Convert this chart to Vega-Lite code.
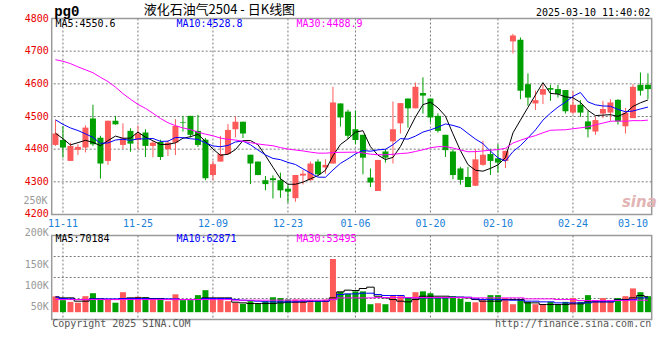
{
"$schema": "https://vega.github.io/schema/vega-lite/v6.json",
"autosize": {"type": "pad"},
"padding": {"left": 21.7, "top": 2.5, "right": 5.5, "bottom": 31},
"background": "#ffffff",
"bounds": "flush",
"spacing": 21,
"config": {
 "view": {"stroke": "#9a9a9a", "strokeWidth": 1.5},
 "axis": {"domain": false, "ticks": false, "grid": false, "labelFont": "DejaVu Sans Mono", "labelFontSize": 10, "titleFont": "DejaVu Sans Mono", "titleFontSize": 10, "titleFontWeight": "normal", "titleColor": "#000000"},
 "text": {"font": "DejaVu Sans Mono", "fontSize": 10}
},
"datasets": {
"gx": [{"gd":"2024-11-11"},{"gd":"2024-11-25"},{"gd":"2024-12-09"},{"gd":"2024-12-23"},{"gd":"2025-01-06"},{"gd":"2025-01-20"},{"gd":"2025-02-10"},{"gd":"2025-02-24"}],
"k": [
{"d":"2024-11-08","o":4413,"h":4489,"l":4410,"c":4448,"v":55000,"m5":4449,"m10":4490,"m30":4674,"v5":53900,"v10":53100,"v30":47500},
{"d":"2024-11-11","o":4428,"h":4471,"l":4374,"c":4405,"v":46000,"m5":4432,"m10":4476,"m30":4669,"v5":51500,"v10":49900,"v30":47500},
{"d":"2024-11-12","o":4364,"h":4420,"l":4364,"c":4410,"v":42000,"m5":4413,"m10":4465,"m30":4662,"v5":51500,"v10":49100,"v30":47500},
{"d":"2024-11-13","o":4398,"h":4415,"l":4382,"c":4407,"v":40000,"m5":4420,"m10":4457,"m30":4652,"v5":43600,"v10":47500,"v30":47500},
{"d":"2024-11-14","o":4405,"h":4473,"l":4390,"c":4466,"v":55500,"m5":4427.2,"m10":4447,"m30":4643,"v5":43600,"v10":47500,"v30":47500},
{"d":"2024-11-15","o":4494,"h":4536,"l":4410,"c":4415,"v":62600,"m5":4420.6,"m10":4436,"m30":4634,"v5":49100,"v10":49100,"v30":47500},
{"d":"2024-11-18","o":4435,"h":4441,"l":4310,"c":4356,"v":47600,"m5":4410.8,"m10":4418,"m30":4620,"v5":49100,"v10":49100,"v30":47500},
{"d":"2024-11-19","o":4364,"h":4487,"l":4352,"c":4487,"v":47600,"m5":4426.2,"m10":4419,"m30":4607,"v5":47500,"v10":49100,"v30":47500},
{"d":"2024-11-20","o":4487,"h":4502,"l":4475,"c":4476,"v":40000,"m5":4440,"m10":4428,"m30":4590,"v5":47500,"v10":49100,"v30":47500},
{"d":"2024-11-21","o":4413,"h":4479,"l":4400,"c":4433,"v":65000,"m5":4433.4,"m10":4430.3,"m30":4570,"v5":49900,"v10":49900,"v30":47500},
{"d":"2024-11-22","o":4456,"h":4464,"l":4392,"c":4417,"v":51000,"m5":4433.8,"m10":4427.2,"m30":4553,"v5":51500,"v10":49900,"v30":47500},
{"d":"2024-11-25","o":4428,"h":4472,"l":4400,"c":4448,"v":54000,"m5":4452.2,"m10":4431.5,"m30":4537,"v5":51500,"v10":49900,"v30":47500},
{"d":"2024-11-26","o":4451,"h":4461,"l":4376,"c":4410,"v":53000,"m5":4436.8,"m10":4431.5,"m30":4525,"v5":51500,"v10":49900,"v30":47500},
{"d":"2024-11-27","o":4410,"h":4425,"l":4375,"c":4420,"v":49000,"m5":4425.6,"m10":4432.8,"m30":4510,"v5":49900,"v10":49100,"v30":47500},
{"d":"2024-11-28","o":4422,"h":4429,"l":4367,"c":4376,"v":49000,"m5":4414.2,"m10":4423.8,"m30":4494,"v5":49900,"v10":49100,"v30":47500},
{"d":"2024-11-29","o":4400,"h":4427,"l":4379,"c":4420,"v":43600,"m5":4414.8,"m10":4424.3,"m30":4481,"v5":47500,"v10":49100,"v30":47500},
{"d":"2024-12-02","o":4420,"h":4492,"l":4382,"c":4471,"v":60000,"m5":4419.4,"m10":4435.8,"m30":4472,"v5":47500,"v10":49100,"v30":47500},
{"d":"2024-12-03","o":4482,"h":4502,"l":4454,"c":4480,"v":46000,"m5":4433.4,"m10":4435.1,"m30":4465,"v5":47500,"v10":47500,"v30":47500},
{"d":"2024-12-04","o":4502,"h":4502,"l":4436,"c":4444,"v":46000,"m5":4438.2,"m10":4431.9,"m30":4460,"v5":47500,"v10":47500,"v30":47500},
{"d":"2024-12-05","o":4456,"h":4505,"l":4407,"c":4413,"v":58000,"m5":4445.6,"m10":4429.9,"m30":4452,"v5":47500,"v10":47500,"v30":47500},
{"d":"2024-12-06","o":4429,"h":4434,"l":4305,"c":4311,"v":69800,"m5":4423.8,"m10":4419.3,"m30":4446,"v5":51500,"v10":49900,"v30":47500},
{"d":"2024-12-09","o":4321,"h":4364,"l":4305,"c":4354,"v":47600,"m5":4400.4,"m10":4409.9,"m30":4441,"v5":51500,"v10":49900,"v30":47500},
{"d":"2024-12-10","o":4362,"h":4441,"l":4362,"c":4385,"v":47600,"m5":4381.4,"m10":4407.4,"m30":4434,"v5":51500,"v10":49900,"v30":47500},
{"d":"2024-12-11","o":4385,"h":4477,"l":4382,"c":4459,"v":43600,"m5":4384.4,"m10":4411.3,"m30":4430,"v5":51500,"v10":49900,"v30":47500},
{"d":"2024-12-12","o":4461,"h":4500,"l":4436,"c":4484,"v":40000,"m5":4398.6,"m10":4422.1,"m30":4428,"v5":41200,"v10":47500,"v30":46000},
{"d":"2024-12-13","o":4484,"h":4484,"l":4434,"c":4448,"v":37300,"m5":4426,"m10":4424.9,"m30":4424,"v5":39600,"v10":45900,"v30":46000},
{"d":"2024-12-16","o":4383,"h":4383,"l":4293,"c":4356,"v":43600,"m5":4426.4,"m10":4413.4,"m30":4420,"v5":38000,"v10":45100,"v30":46000},
{"d":"2024-12-17","o":4362,"h":4362,"l":4320,"c":4321,"v":37300,"m5":4413.6,"m10":4397.5,"m30":4416,"v5":38000,"v10":43600,"v30":46000},
{"d":"2024-12-18","o":4305,"h":4318,"l":4274,"c":4293,"v":43600,"m5":4380.4,"m10":4382.4,"m30":4413,"v5":38000,"v10":42000,"v30":46000},
{"d":"2024-12-19","o":4311,"h":4320,"l":4249,"c":4305,"v":53000,"m5":4344.6,"m10":4371.6,"m30":4410.6,"v5":38000,"v10":42000,"v30":46000},
{"d":"2024-12-20","o":4305,"h":4328,"l":4251,"c":4274,"v":51000,"m5":4309.8,"m10":4367.9,"m30":4404.8,"v5":39600,"v10":42000,"v30":46000},
{"d":"2024-12-23","o":4279,"h":4292,"l":4236,"c":4270,"v":47600,"m5":4292.6,"m10":4359.5,"m30":4400.3,"v5":41200,"v10":42000,"v30":46000},
{"d":"2024-12-24","o":4250,"h":4321,"l":4239,"c":4321,"v":47600,"m5":4292.6,"m10":4353.1,"m30":4397.3,"v5":41200,"v10":42000,"v30":46000},
{"d":"2024-12-25","o":4319,"h":4336,"l":4292,"c":4325,"v":47600,"m5":4299,"m10":4339.7,"m30":4394.6,"v5":41200,"v10":43600,"v30":46000},
{"d":"2024-12-26","o":4305,"h":4362,"l":4303,"c":4356,"v":46000,"m5":4309.2,"m10":4326.9,"m30":4390.9,"v5":43600,"v10":43600,"v30":46000},
{"d":"2024-12-27","o":4362,"h":4369,"l":4321,"c":4323,"v":43600,"m5":4319,"m10":4314.4,"m30":4387.9,"v5":43600,"v10":43600,"v30":46000},
{"d":"2024-12-30","o":4344,"h":4369,"l":4325,"c":4352,"v":47600,"m5":4335.4,"m10":4314,"m30":4387.7,"v5":43600,"v10":43600,"v30":46000},
{"d":"2024-12-31","o":4356,"h":4591,"l":4356,"c":4543,"v":144000,"m5":4379.8,"m10":4336.2,"m30":4389.6,"v5":51500,"v10":47500,"v30":47500},
{"d":"2025-01-02","o":4540,"h":4540,"l":4469,"c":4497,"v":65700,"m5":4414.2,"m10":4356.6,"m30":4390.3,"v5":65800,"v10":59500,"v30":51500},
{"d":"2025-01-03","o":4515,"h":4521,"l":4431,"c":4441,"v":61000,"m5":4431.2,"m10":4370.2,"m30":4390.6,"v5":69800,"v10":61000,"v30":51500},
{"d":"2025-01-06","o":4461,"h":4518,"l":4415,"c":4428,"v":67000,"m5":4452.2,"m10":4385.6,"m30":4390.9,"v5":69000,"v10":61000,"v30":51500},
{"d":"2025-01-07","o":4444,"h":4444,"l":4323,"c":4374,"v":67000,"m5":4456.6,"m10":4396,"m30":4388.5,"v5":73800,"v10":62600,"v30":51500},
{"d":"2025-01-08","o":4313,"h":4341,"l":4284,"c":4298,"v":36400,"m5":4407.6,"m10":4393.7,"m30":4384.7,"v5":77000,"v10":62600,"v30":51500},
{"d":"2025-01-09","o":4272,"h":4367,"l":4272,"c":4367,"v":38800,"m5":4381.6,"m10":4397.9,"m30":4383,"v5":55500,"v10":59500,"v30":52300},
{"d":"2025-01-10","o":4393,"h":4400,"l":4359,"c":4374,"v":36400,"m5":4368.2,"m10":4399.7,"m30":4382.9,"v5":51500,"v10":57100,"v30":52300},
{"d":"2025-01-13","o":4424,"h":4546,"l":4356,"c":4461,"v":57800,"m5":4374.8,"m10":4413.5,"m30":4384.3,"v5":47500,"v10":57100,"v30":52300},
{"d":"2025-01-14","o":4479,"h":4541,"l":4448,"c":4541,"v":55500,"m5":4408.2,"m10":4432.4,"m30":4386.6,"v5":43600,"v10":57100,"v30":52300},
{"d":"2025-01-15","o":4555,"h":4555,"l":4466,"c":4525,"v":51500,"m5":4453.6,"m10":4430.6,"m30":4388.1,"v5":42000,"v10":51500,"v30":52300},
{"d":"2025-01-16","o":4525,"h":4604,"l":4525,"c":4591,"v":65000,"m5":4498.4,"m10":4440,"m30":4393,"v5":47500,"v10":51500,"v30":52300},
{"d":"2025-01-17","o":4572,"h":4620,"l":4509,"c":4564,"v":67000,"m5":4536.4,"m10":4452.3,"m30":4398,"v5":55500,"v10":51500,"v30":52300},
{"d":"2025-01-20","o":4555,"h":4555,"l":4482,"c":4497,"v":62600,"m5":4543.6,"m10":4459.2,"m30":4404.2,"v5":55500,"v10":51500,"v30":52300},
{"d":"2025-01-21","o":4502,"h":4510,"l":4451,"c":4456,"v":53000,"m5":4526.6,"m10":4467.4,"m30":4407.6,"v5":55500,"v10":51500,"v30":52300},
{"d":"2025-01-22","o":4444,"h":4444,"l":4376,"c":4397,"v":53000,"m5":4501,"m10":4477.3,"m30":4408,"v5":55500,"v10":51500,"v30":52300},
{"d":"2025-01-23","o":4393,"h":4400,"l":4308,"c":4321,"v":55500,"m5":4447,"m10":4472.7,"m30":4403.4,"v5":53100,"v10":53100,"v30":52300},
{"d":"2025-01-24","o":4341,"h":4346,"l":4291,"c":4306,"v":49000,"m5":4395.4,"m10":4465.9,"m30":4397.5,"v5":53100,"v10":53100,"v30":52300},
{"d":"2025-01-27","o":4315,"h":4346,"l":4284,"c":4284,"v":42000,"m5":4352.8,"m10":4448.2,"m30":4392,"v5":51500,"v10":53100,"v30":52300},
{"d":"2025-02-05","o":4288,"h":4400,"l":4287,"c":4369,"v":41000,"m5":4335.4,"m10":4431,"m30":4392.5,"v5":47500,"v10":49100,"v30":51500},
{"d":"2025-02-06","o":4352,"h":4426,"l":4349,"c":4383,"v":46000,"m5":4332.6,"m10":4416.8,"m30":4394.5,"v5":43600,"v10":47500,"v30":51500},
{"d":"2025-02-07","o":4385,"h":4400,"l":4321,"c":4364,"v":58000,"m5":4341.2,"m10":4394.1,"m30":4396.9,"v5":43600,"v10":47500,"v30":51500},
{"d":"2025-02-10","o":4372,"h":4415,"l":4328,"c":4359,"v":58000,"m5":4351.8,"m10":4373.6,"m30":4398.7,"v5":43600,"v10":47500,"v30":51500},
{"d":"2025-02-11","o":4364,"h":4395,"l":4342,"c":4395,"v":51000,"m5":4374,"m10":4363.4,"m30":4402.7,"v5":47500,"v10":46700,"v30":51500},
{"d":"2025-02-12","o":4730,"h":4753,"l":4693,"c":4748,"v":36400,"m5":4449.8,"m10":4392.6,"m30":4418.7,"v5":47500,"v10":45900,"v30":51500},
{"d":"2025-02-13","o":4735,"h":4742,"l":4553,"c":4579,"v":46000,"m5":4489,"m10":4410.8,"m30":4427.3,"v5":47500,"v10":45900,"v30":51500},
{"d":"2025-02-14","o":4599,"h":4632,"l":4533,"c":4558,"v":42000,"m5":4527.8,"m10":4434.5,"m30":4435,"v5":39600,"v10":43600,"v30":49100},
{"d":"2025-02-17","o":4540,"h":4579,"l":4520,"c":4550,"v":36400,"m5":4566,"m10":4458.9,"m30":4441.5,"v5":39600,"v10":43600,"v30":49100},
{"d":"2025-02-18","o":4567,"h":4599,"l":4538,"c":4584,"v":36400,"m5":4603.8,"m10":4488.9,"m30":4450.2,"v5":35600,"v10":42000,"v30":49100},
{"d":"2025-02-19","o":4587,"h":4597,"l":4548,"c":4582,"v":42000,"m5":4570.6,"m10":4510.2,"m30":4457.9,"v5":35600,"v10":42000,"v30":49100},
{"d":"2025-02-20","o":4584,"h":4597,"l":4558,"c":4569,"v":36400,"m5":4568.6,"m10":4528.8,"m30":4458.7,"v5":35600,"v10":39600,"v30":47500},
{"d":"2025-02-21","o":4581,"h":4581,"l":4509,"c":4516,"v":42000,"m5":4560.2,"m10":4544,"m30":4459.4,"v5":35600,"v10":39600,"v30":47500},
{"d":"2025-02-24","o":4512,"h":4577,"l":4507,"c":4536,"v":51000,"m5":4557.4,"m10":4561.7,"m30":4462.5,"v5":37200,"v10":39600,"v30":47500},
{"d":"2025-02-25","o":4536,"h":4550,"l":4499,"c":4512,"v":42000,"m5":4543,"m10":4573.4,"m30":4465.3,"v5":37200,"v10":39600,"v30":45100},
{"d":"2025-02-26","o":4485,"h":4518,"l":4436,"c":4461,"v":58000,"m5":4518.8,"m10":4544.7,"m30":4468.2,"v5":42000,"v10":39600,"v30":45100},
{"d":"2025-02-27","o":4454,"h":4499,"l":4444,"c":4489,"v":46000,"m5":4502.8,"m10":4535.7,"m30":4474.6,"v5":42000,"v10":42000,"v30":45100},
{"d":"2025-02-28","o":4509,"h":4548,"l":4495,"c":4523,"v":51000,"m5":4504.2,"m10":4532.2,"m30":4479.8,"v5":42000,"v10":42000,"v30":45100},
{"d":"2025-03-03","o":4512,"h":4553,"l":4487,"c":4543,"v":42000,"m5":4505.6,"m10":4531.5,"m30":4485.4,"v5":42000,"v10":42000,"v30":45100},
{"d":"2025-03-04","o":4551,"h":4553,"l":4475,"c":4485,"v":51000,"m5":4500.2,"m10":4521.6,"m30":4486.2,"v5":47500,"v10":45900,"v30":45100},
{"d":"2025-03-05","o":4470,"h":4526,"l":4448,"c":4512,"v":55500,"m5":4510.4,"m10":4514.6,"m30":4485.3,"v5":47500,"v10":45900,"v30":45100},
{"d":"2025-03-06","o":4495,"h":4599,"l":4495,"c":4591,"v":74000,"m5":4530.8,"m10":4516.8,"m30":4487.5,"v5":51500,"v10":47500,"v30":45900},
{"d":"2025-03-07","o":4597,"h":4635,"l":4564,"c":4579,"v":65000,"m5":4542,"m10":4523.1,"m30":4487.1,"v5":57100,"v10":51500,"v30":45900},
{"d":"2025-03-10","o":4597,"h":4632,"l":4553,"c":4584,"v":55500,"m5":4550.6,"m10":4528.8,"m30":4488.9,"v5":53900,"v10":51500,"v30":45900}
]},
"vconcat": [
 {
  "width": 600, "height": 196,
  "data": {"name": "k"},
  "title": {"text": "液化石油气2504 - 日K线图", "anchor": "start", "frame": "group", "dx": 92, "dy": 24.5, "offset": 2, "baseline": "alphabetic", "font": "Noto Sans CJK SC", "fontSize": 13, "fontWeight": "normal", "color": "#000000"},
  "encoding": {
   "x": {"field": "d", "type": "ordinal", "scale": {"paddingInner": 0.2, "paddingOuter": 0.1},
    "axis": {"values": ["2024-11-11","2024-11-25","2024-12-09","2024-12-23","2025-01-06","2025-01-20","2025-02-10","2025-02-24","2025-03-10"],
     "labelExpr": "slice(datum.value, 5)", "labelAngle": 0, "labelColor": "#1a80d8", "labelPadding": 4, "labelOverlap": false, "grid": false,
     "labelAlign": {"condition": {"test": "datum.value === '2025-03-10'", "value": "right"}, "value": "center"},
     "title": "pg0", "titleX": 2, "titleY": -199.5, "titleAlign": "left", "titleBaseline": "alphabetic", "titleFont": "Liberation Mono", "titleFontSize": 14, "titleFontWeight": "bold", "titleColor": "#000000"}}
  },
  "layer": [
   {"data": {"values": [{"g": 4300}, {"g": 4400}, {"g": 4500}, {"g": 4600}, {"g": 4700}]},
    "mark": {"type": "rule", "color": "#7a7a7a", "strokeWidth": 1, "strokeDash": [2, 2]},
    "encoding": {"x": null, "y": {"field": "g", "type": "quantitative", "scale": {"domain": [4200, 4800], "nice": false, "zero": false},
     "axis": {"labels": false, "grid": false, "title": "2025-03-10 11:40:02", "titleAngle": 0, "titleAlign": "right", "titleBaseline": "alphabetic", "titleX": 598, "titleY": -3}}}},
   {"data": {"name": "gx"},
    "mark": {"type": "rule", "color": "#7a7a7a", "strokeWidth": 1, "strokeDash": [2, 2]},
    "encoding": {"x": {"field": "gd", "type": "ordinal"}}},
   {"mark": {"type": "rule", "strokeWidth": 1},
    "encoding": {
     "y": {"field": "l", "type": "quantitative", "axis": {"labels": false, "grid": false, "title": "2025-03-10 11:40:02", "titleAngle": 0, "titleAlign": "right", "titleBaseline": "alphabetic", "titleX": 598, "titleY": -3}},
     "y2": {"field": "h"},
     "color": {"condition": {"test": "datum.c >= datum.o", "value": "#ff5a5a"}, "value": "#00a000"}}},
   {"mark": {"type": "bar"},
    "encoding": {
     "y": {"field": "o", "type": "quantitative", "axis": {"labels": false, "grid": false, "title": "2025-03-10 11:40:02", "titleAngle": 0, "titleAlign": "right", "titleBaseline": "alphabetic", "titleX": 598, "titleY": -3}},
     "y2": {"field": "c"},
     "color": {"condition": {"test": "datum.c >= datum.o", "value": "#ff5a5a"}, "value": "#00a000"}}},
   {"mark": {"type": "line", "color": "#000000", "strokeWidth": 1}, "encoding": {"y": {"field": "m5", "type": "quantitative", "axis": {"labels": false, "grid": false, "title": "2025-03-10 11:40:02", "titleAngle": 0, "titleAlign": "right", "titleBaseline": "alphabetic", "titleX": 598, "titleY": -3}}}},
   {"mark": {"type": "line", "color": "#0000ff", "strokeWidth": 1}, "encoding": {"y": {"field": "m10", "type": "quantitative", "axis": {"labels": false, "grid": false, "title": "2025-03-10 11:40:02", "titleAngle": 0, "titleAlign": "right", "titleBaseline": "alphabetic", "titleX": 598, "titleY": -3}}}},
   {"mark": {"type": "line", "color": "#ff00ff", "strokeWidth": 1}, "encoding": {"y": {"field": "m30", "type": "quantitative", "axis": {"labels": false, "grid": false, "title": "2025-03-10 11:40:02", "titleAngle": 0, "titleAlign": "right", "titleBaseline": "alphabetic", "titleX": 598, "titleY": -3}}}},
   {"data": {"values": [{"t": 4200}, {"t": 4300}, {"t": 4400}, {"t": 4500}, {"t": 4600}, {"t": 4700}, {"t": 4800}]},
    "mark": {"type": "text", "align": "right", "baseline": "middle", "dx": -6.75, "color": "#e80000"},
    "encoding": {"x": {"datum": "2024-11-08", "type": "ordinal"}, "y": {"field": "t", "type": "quantitative", "axis": {"labels": false, "grid": false, "title": "2025-03-10 11:40:02", "titleAngle": 0, "titleAlign": "right", "titleBaseline": "alphabetic", "titleX": 598, "titleY": -3}}, "text": {"field": "t", "type": "quantitative", "format": "d"}}},
   {"data": {"values": [{}]}, "mark": {"type": "text", "align": "left", "baseline": "middle", "dx": 0, "color": "#000000"},
    "encoding": {"x": {"datum": "2024-11-08", "type": "ordinal"}, "y": {"datum": 4783, "type": "quantitative", "axis": {"labels": false, "grid": false, "title": "2025-03-10 11:40:02", "titleAngle": 0, "titleAlign": "right", "titleBaseline": "alphabetic", "titleX": 598, "titleY": -3}}, "text": {"value": "MA5:4550.6"}}},
   {"data": {"values": [{}]}, "mark": {"type": "text", "align": "left", "baseline": "middle", "dx": 1, "color": "#0000ff"},
    "encoding": {"x": {"datum": "2024-12-02", "type": "ordinal"}, "y": {"datum": 4783, "type": "quantitative", "axis": {"labels": false, "grid": false, "title": "2025-03-10 11:40:02", "titleAngle": 0, "titleAlign": "right", "titleBaseline": "alphabetic", "titleX": 598, "titleY": -3}}, "text": {"value": "MA10:4528.8"}}},
   {"data": {"values": [{}]}, "mark": {"type": "text", "align": "left", "baseline": "middle", "dx": 1, "color": "#ff00ff"},
    "encoding": {"x": {"datum": "2024-12-24", "type": "ordinal"}, "y": {"datum": 4783, "type": "quantitative", "axis": {"labels": false, "grid": false, "title": "2025-03-10 11:40:02", "titleAngle": 0, "titleAlign": "right", "titleBaseline": "alphabetic", "titleX": 598, "titleY": -3}}, "text": {"value": "MA30:4488.9"}}},
   {"data": {"values": [{}]}, "mark": {"type": "text", "align": "right", "baseline": "middle", "dx": -8, "color": "#999999"},
    "encoding": {"x": {"datum": "2024-11-08", "type": "ordinal"}, "y": {"datum": 4241, "type": "quantitative", "axis": {"labels": false, "grid": false, "title": "2025-03-10 11:40:02", "titleAngle": 0, "titleAlign": "right", "titleBaseline": "alphabetic", "titleX": 598, "titleY": -3}}, "text": {"value": "250K"}}},
   {"data": {"values": [{}]}, "mark": {"type": "text", "align": "left", "baseline": "middle", "dx": 4, "color": "#e2b4b4", "font": "DejaVu Sans", "fontSize": 15, "fontStyle": "italic", "fontWeight": "bold"},
    "encoding": {"x": {"datum": "2025-03-04", "type": "ordinal"}, "y": {"datum": 4238, "type": "quantitative", "axis": {"labels": false, "grid": false, "title": "2025-03-10 11:40:02", "titleAngle": 0, "titleAlign": "right", "titleBaseline": "alphabetic", "titleX": 598, "titleY": -3}}, "text": {"value": "sina"}}}
  ]
 },
 {
  "width": 600, "height": 84,
  "data": {"name": "k"},
  "encoding": {
   "x": {"field": "d", "type": "ordinal", "scale": {"paddingInner": 0.2, "paddingOuter": 0.1},
    "axis": {"labels": false, "grid": false,
     "title": "http://finance.sina.com.cn", "titleX": 599, "titleY": 7.5, "titleAlign": "right", "titleBaseline": "alphabetic", "titleColor": "#555555"}}
  },
  "layer": [
   {"data": {"values": [{"g": 50000}, {"g": 100000}, {"g": 150000}]},
    "mark": {"type": "rule", "color": "#7a7a7a", "strokeWidth": 1, "strokeDash": [2, 2]},
    "encoding": {"x": null, "y": {"field": "g", "type": "quantitative", "scale": {"domain": [0, 200000], "nice": false},
     "axis": {"labels": false, "grid": false, "title": "Copyright 2025 SINA.COM", "titleAngle": 0, "titleAlign": "left", "titleBaseline": "alphabetic", "titleX": 0, "titleY": 91.5, "titleColor": "#555555"}}}},
   {"data": {"name": "gx"},
    "mark": {"type": "rule", "color": "#7a7a7a", "strokeWidth": 1, "strokeDash": [2, 2]},
    "encoding": {"x": {"field": "gd", "type": "ordinal"}}},
   {"mark": {"type": "bar"},
    "encoding": {
     "y": {"field": "v", "type": "quantitative", "axis": {"labels": false, "grid": false, "title": "Copyright 2025 SINA.COM", "titleAngle": 0, "titleAlign": "left", "titleBaseline": "alphabetic", "titleX": 0, "titleY": 91.5, "titleColor": "#555555"}},
     "y2": {"datum": 17400},
     "color": {"condition": {"test": "datum.c >= datum.o", "value": "#ff5a5a"}, "value": "#00a000"}}},
   {"mark": {"type": "line", "color": "#000000", "strokeWidth": 1, "interpolate": "step"}, "encoding": {"y": {"field": "v5", "type": "quantitative", "axis": {"labels": false, "grid": false, "title": "Copyright 2025 SINA.COM", "titleAngle": 0, "titleAlign": "left", "titleBaseline": "alphabetic", "titleX": 0, "titleY": 91.5, "titleColor": "#555555"}}}},
   {"mark": {"type": "line", "color": "#0000ff", "strokeWidth": 1, "interpolate": "step"}, "encoding": {"y": {"field": "v10", "type": "quantitative", "axis": {"labels": false, "grid": false, "title": "Copyright 2025 SINA.COM", "titleAngle": 0, "titleAlign": "left", "titleBaseline": "alphabetic", "titleX": 0, "titleY": 91.5, "titleColor": "#555555"}}}},
   {"mark": {"type": "line", "color": "#ff00ff", "strokeWidth": 1, "interpolate": "step"}, "encoding": {"y": {"field": "v30", "type": "quantitative", "axis": {"labels": false, "grid": false, "title": "Copyright 2025 SINA.COM", "titleAngle": 0, "titleAlign": "left", "titleBaseline": "alphabetic", "titleX": 0, "titleY": 91.5, "titleColor": "#555555"}}}},
   {"data": {"values": [{"t": 50000, "lab": "50K"}, {"t": 100000, "lab": "100K"}, {"t": 150000, "lab": "150K"}]},
    "mark": {"type": "text", "align": "right", "baseline": "top", "dx": -6.75, "dy": 4, "color": "#999999"},
    "encoding": {"x": {"datum": "2024-11-08", "type": "ordinal"}, "y": {"field": "t", "type": "quantitative", "axis": {"labels": false, "grid": false, "title": "Copyright 2025 SINA.COM", "titleAngle": 0, "titleAlign": "left", "titleBaseline": "alphabetic", "titleX": 0, "titleY": 91.5, "titleColor": "#555555"}}, "text": {"field": "lab"}}},
   {"data": {"values": [{"t": 200000, "lab": "200K"}]},
    "mark": {"type": "text", "align": "right", "baseline": "middle", "dx": -6.75, "dy": -2, "color": "#999999"},
    "encoding": {"x": {"datum": "2024-11-08", "type": "ordinal"}, "y": {"field": "t", "type": "quantitative", "axis": {"labels": false, "grid": false, "title": "Copyright 2025 SINA.COM", "titleAngle": 0, "titleAlign": "left", "titleBaseline": "alphabetic", "titleX": 0, "titleY": 91.5, "titleColor": "#555555"}}, "text": {"field": "lab"}}},
   {"data": {"values": [{}]}, "mark": {"type": "text", "align": "left", "baseline": "middle", "dx": 0, "color": "#000000"},
    "encoding": {"x": {"datum": "2024-11-08", "type": "ordinal"}, "y": {"datum": 191000, "type": "quantitative", "axis": {"labels": false, "grid": false, "title": "Copyright 2025 SINA.COM", "titleAngle": 0, "titleAlign": "left", "titleBaseline": "alphabetic", "titleX": 0, "titleY": 91.5, "titleColor": "#555555"}}, "text": {"value": "MA5:70184"}}},
   {"data": {"values": [{}]}, "mark": {"type": "text", "align": "left", "baseline": "middle", "dx": 1, "color": "#0000ff"},
    "encoding": {"x": {"datum": "2024-12-02", "type": "ordinal"}, "y": {"datum": 191000, "type": "quantitative", "axis": {"labels": false, "grid": false, "title": "Copyright 2025 SINA.COM", "titleAngle": 0, "titleAlign": "left", "titleBaseline": "alphabetic", "titleX": 0, "titleY": 91.5, "titleColor": "#555555"}}, "text": {"value": "MA10:62871"}}},
   {"data": {"values": [{}]}, "mark": {"type": "text", "align": "left", "baseline": "middle", "dx": 1, "color": "#ff00ff"},
    "encoding": {"x": {"datum": "2024-12-24", "type": "ordinal"}, "y": {"datum": 191000, "type": "quantitative", "axis": {"labels": false, "grid": false, "title": "Copyright 2025 SINA.COM", "titleAngle": 0, "titleAlign": "left", "titleBaseline": "alphabetic", "titleX": 0, "titleY": 91.5, "titleColor": "#555555"}}, "text": {"value": "MA30:53495"}}}
  ]
 }
]
}
